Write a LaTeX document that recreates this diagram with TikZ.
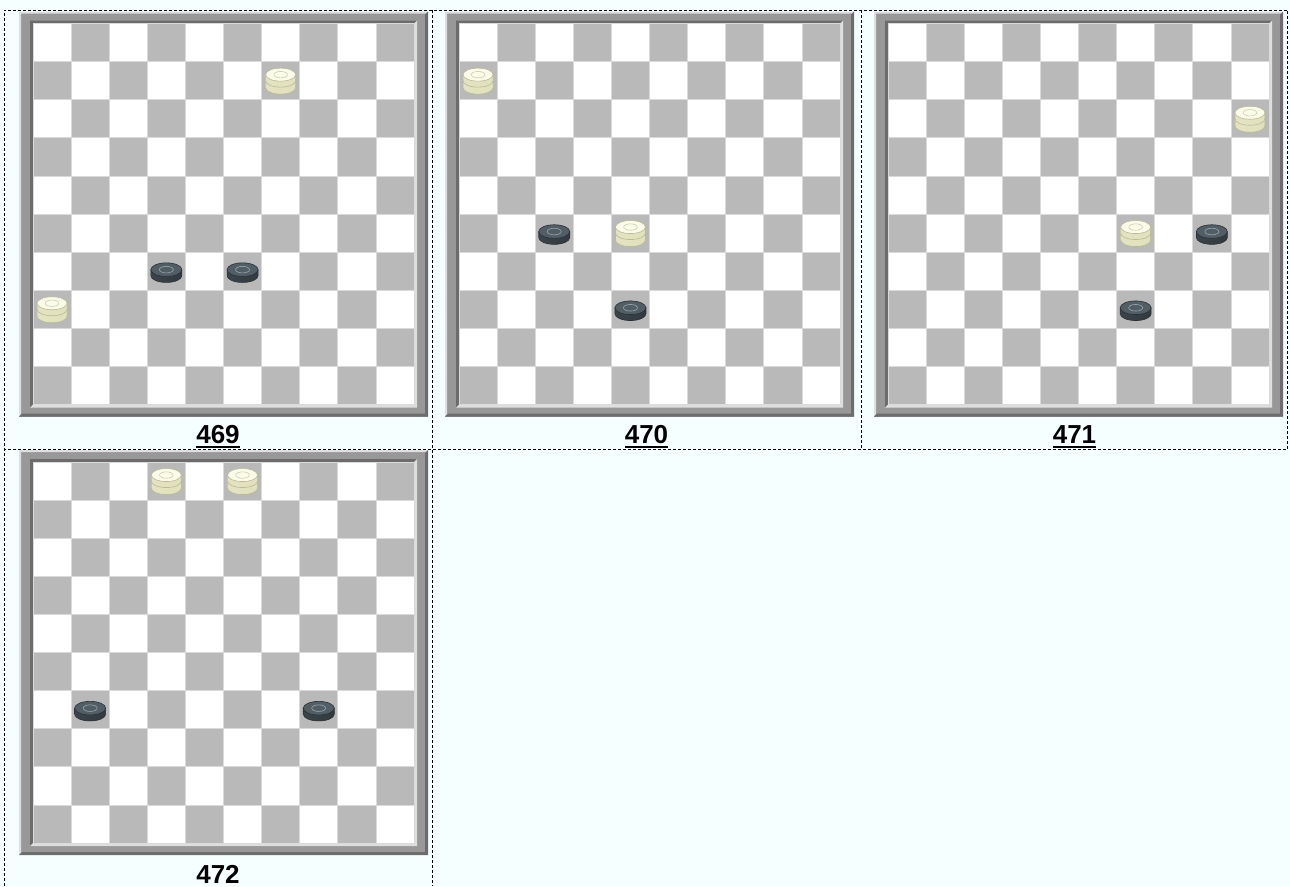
\documentclass[tikz,border=0pt]{standalone}
\usepackage{fontspec}
\setmainfont{Liberation Sans}
\definecolor{bgcol}{HTML}{F5FFFF}
\definecolor{darksq}{HTML}{B9B9B9}
\definecolor{sqline}{HTML}{DADADA}
\definecolor{framecol}{HTML}{989898}
\definecolor{framelight}{HTML}{DEDEDE}
\definecolor{framedark}{HTML}{6C6C6C}
\definecolor{creamtop}{HTML}{FBFBEA}
\definecolor{creamside}{HTML}{EEEECB}
\definecolor{creamedge}{HTML}{B9B994}
\definecolor{slatetop}{HTML}{525E66}
\definecolor{slateside}{HTML}{3B444B}
\definecolor{slateedge}{HTML}{2A3136}
\definecolor{slatering}{HTML}{9AA4AB}

\newcommand{\sqsize}{38.1}
\newcommand{\drawboard}[3]{%
  \begin{scope}[shift={(#1,#2)}]
    \fill[framecol] (-14,-12) rectangle (395,393);
    \fill[framelight] (-14,393) -- (-14,-12) -- (395,-12) -- (393,-10) -- (-12,-10) -- (-12,391) -- cycle;
    \fill[framedark] (395,-12) -- (395,393) -- (-14,393) -- (-11,390) -- (392,390) -- (392,-9) -- cycle;
    \fill[framedark] (-3,384) -- (-3,-3) -- (384,-3) -- (381,0) -- (0,0) -- (0,381) -- cycle;
    \fill[framelight] (384,-3) -- (384,384) -- (-3,384) -- (0,381) -- (381,381) -- (381,0) -- cycle;
    \foreach \r in {0,...,9}
      \foreach \c in {0,...,9} {
        \pgfmathtruncatemacro\odd{mod(\r+\c,2)}
        \ifnum\odd=1 \def\sqcol{darksq}\else\def\sqcol{white}\fi
        \filldraw[fill=\sqcol, draw=sqline, line width=0.8] (\c*\sqsize,\r*\sqsize) rectangle ++(\sqsize,\sqsize);
      }
    #3
  \end{scope}}
\newcommand{\wking}[2]{%
  \begin{scope}[shift={({(#1+0.5)*\sqsize},{(#2+0.5)*\sqsize})}]
    \path[draw=creamedge, line width=0.6, left color=creamside!80!creamedge, middle color=creamtop, right color=creamside!75!creamedge]
      (-15,-6) -- (-15,7) arc[start angle=180, end angle=0, x radius=15, y radius=6.5] -- (15,-6) -- cycle;
    \draw[creamedge, line width=0.6] (-15,0) arc[start angle=180, end angle=0, x radius=15, y radius=6.5];
    \filldraw[fill=creamtop, draw=creamedge, line width=0.6] (0,-6) ellipse[x radius=15, y radius=6.5];
    \draw[creamedge!70, line width=0.6] (0,-6) ellipse[x radius=6.8, y radius=3.2];
  \end{scope}}
\newcommand{\bpiece}[2]{%
  \begin{scope}[shift={({(#1+0.5)*\sqsize},{(#2+0.5)*\sqsize})}]
    \path[draw=slateedge, line width=0.6, left color=slateside, middle color=slateside!80!slatetop, right color=slateside!85!black]
      (-15.5,-1.5) -- (-15.5,4.5) arc[start angle=180, end angle=0, x radius=15.5, y radius=6.8] -- (15.5,-1.5) -- cycle;
    \filldraw[fill=slatetop, draw=slateedge, line width=0.6] (0,-1.5) ellipse[x radius=15.5, y radius=6.8];
    \draw[slatering, line width=0.6] (0,-1.5) ellipse[x radius=7, y radius=3.3];
  \end{scope}}

\begin{document}
\begin{tikzpicture}[x=1pt, y=-1pt,
    cellline/.style={black, line width=0.8, dash pattern=on 3pt off 2pt},
    lab/.style={font=\fontsize{26}{30}\selectfont\bfseries, inner sep=0pt, anchor=base},
    uline/.style={line width=2.6}]
  \useasboundingbox (0,0) rectangle (1290,886);
  \fill[bgcol] (0,0) rectangle (1290,886);

  \drawboard{33}{23.5}{\wking{6}{1} \bpiece{3}{6} \bpiece{5}{6} \wking{0}{7}}
  \drawboard{459}{23.5}{\wking{0}{1} \bpiece{2}{5} \wking{4}{5} \bpiece{4}{7}}
  \drawboard{888}{23.5}{\wking{9}{2} \wking{6}{5} \bpiece{8}{5} \bpiece{6}{7}}
  \drawboard{33}{462}{\wking{3}{0} \wking{5}{0} \bpiece{1}{6} \bpiece{7}{6}}

  \draw[cellline] (4.5,886) -- (4.5,10) -- (1287.5,10) -- (1287.5,449) -- (4.5,449);
  \draw[cellline] (432,10) -- (432,886);
  \draw[cellline] (861,10) -- (861,449);

  \node[lab] (n469) at (218,443) {469};
  \node[lab] (n470) at (646.5,443) {470};
  \node[lab] (n471) at (1074.5,443) {471};
  \node[lab] (n472) at (218,883) {472};
  \draw[uline] ([yshift=-4pt]n469.base west) -- ([yshift=-4pt]n469.base east);
  \draw[uline] ([yshift=-4pt]n470.base west) -- ([yshift=-4pt]n470.base east);
  \draw[uline] ([yshift=-4pt]n471.base west) -- ([yshift=-4pt]n471.base east);
\end{tikzpicture}
\end{document}
